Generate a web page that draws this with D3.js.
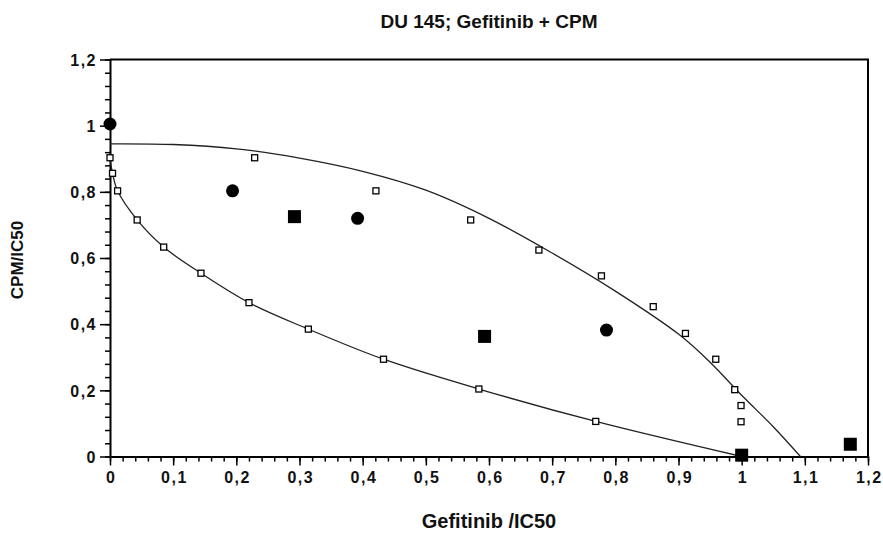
<!DOCTYPE html>
<html>
<head>
<meta charset="utf-8">
<script src="https://cdn.jsdelivr.net/npm/d3@7.9.0/dist/d3.min.js"></script>
<style>
  body { margin: 0; background: #fff; }
  svg { display: block; font-family: "Liberation Sans", Arial, sans-serif; }
  .tick text { font-weight: bold; font-size: 16px; fill: #111; letter-spacing: 1.5px; }
</style>
</head>
<body>
<svg width="883" height="533"></svg>
<script>
// tick values
const xTicks = [0, 0.1, 0.2, 0.3, 0.4, 0.5, 0.6, 0.7, 0.8, 0.9, 1, 1.1, 1.2];
const yTicks = [0, 0.2, 0.4, 0.6, 0.8, 1, 1.2];

// filled circles
const circleX = [0, 0.194, 0.392, 0.786];
const circleY = [1.005, 0.803, 0.72, 0.382];

// filled squares
const squareX = [0.292, 0.593, 1.0, 1.172];
const squareY = [0.725, 0.363, 0.004, 0.037];

// open squares, lower set
const lowX = [0, 0.004, 0.012, 0.043, 0.085, 0.144, 0.22, 0.314, 0.433, 0.584, 0.769];
const lowY = [0.903, 0.856, 0.803, 0.715, 0.633, 0.554, 0.465, 0.385, 0.294, 0.204, 0.106];

// open squares, upper set
const upX = [0.229, 0.421, 0.571, 0.679, 0.778, 0.860, 0.911, 0.959, 0.989, 0.999, 0.999];
const upY = [0.903, 0.803, 0.715, 0.624, 0.546, 0.453, 0.372, 0.294, 0.202, 0.154, 0.105];

// upper isobole curve
const upperCurveX = [0, 0.1, 0.2, 0.3, 0.4, 0.5, 0.6, 0.7, 0.8, 0.9, 0.95, 1.0, 1.05, 1.093];
const upperCurveY = [0.945, 0.943, 0.93, 0.902, 0.862, 0.805, 0.72, 0.615, 0.50, 0.37, 0.285, 0.185, 0.09, 0];

// lower isobole curve
const lowerCurveX = [0, 0.004, 0.012, 0.043, 0.085, 0.144, 0.22, 0.314, 0.433, 0.584, 0.769, 1.0];
const lowerCurveY = [0.90, 0.856, 0.803, 0.715, 0.633, 0.554, 0.465, 0.385, 0.294, 0.204, 0.106, 0];

const svg = d3.select('svg');
const margin = {left: 110, top: 59.5, right: 15, bottom: 76.5};
const W = 883, H = 533;

const x = d3.scaleLinear().domain([0, 1.2]).range([margin.left, W - margin.right]);
const y = d3.scaleLinear().domain([0, 1.2]).range([H - margin.bottom, margin.top]);

const fmt = d => String(+d.toFixed(2)).replace('.', ',');
const zip = (a, b) => a.map((v, i) => [v, b[i]]);

// frame (top + right)
svg.append('path')
  .attr('d', `M${x(0)},${y(1.2)}H${x(1.2)}V${y(0)}`)
  .attr('fill', 'none').attr('stroke', '#000').attr('stroke-width', 2);

// minor ticks
svg.append('g')
  .attr('transform', `translate(0,${y(0)})`)
  .call(d3.axisBottom(x).tickValues(d3.range(0, 61).map(i => i * 0.02)).tickSize(5).tickFormat(''))
  .call(g => g.select('.domain').remove())
  .selectAll('line').attr('stroke', '#000').attr('stroke-width', 1.5);

svg.append('g')
  .attr('transform', `translate(${x(0)},0)`)
  .call(d3.axisLeft(y).tickValues(d3.range(0, 31).map(i => i * 0.04)).tickSize(5).tickFormat(''))
  .call(g => g.select('.domain').remove())
  .selectAll('line').attr('stroke', '#000').attr('stroke-width', 1.5);

// major axes
const xAxis = svg.append('g')
  .attr('transform', `translate(0,${y(0)})`)
  .call(d3.axisBottom(x).tickValues(xTicks).tickSize(9).tickPadding(6).tickSizeOuter(0).tickFormat(fmt));
xAxis.select('.domain').attr('stroke-width', 2);
xAxis.selectAll('line').attr('stroke-width', 1.5);
xAxis.selectAll('text').attr('dx', '0.75px');

const yAxis = svg.append('g')
  .attr('transform', `translate(${x(0)},0)`)
  .call(d3.axisLeft(y).tickValues(yTicks).tickSize(10).tickPadding(3).tickSizeOuter(0).tickFormat(fmt));
yAxis.select('.domain').attr('stroke-width', 2);
yAxis.selectAll('line').attr('stroke-width', 1.5);
yAxis.selectAll('text').attr('dy', '0.36em');

// curves
const line = d3.line().x(d => x(d[0])).y(d => y(d[1])).curve(d3.curveCatmullRom.alpha(0.5));
svg.append('path').datum(zip(upperCurveX, upperCurveY))
  .attr('d', line).attr('fill', 'none').attr('stroke', '#222').attr('stroke-width', 1.3);
svg.append('path').datum(zip(lowerCurveX, lowerCurveY))
  .attr('d', line).attr('fill', 'none').attr('stroke', '#222').attr('stroke-width', 1.3);

// open squares
const openSq = zip(lowX, lowY).concat(zip(upX, upY));
svg.append('g').selectAll('rect').data(openSq).join('rect')
  .attr('x', d => x(d[0]) - 3).attr('y', d => y(d[1]) - 3)
  .attr('width', 6).attr('height', 6)
  .attr('fill', '#fff').attr('stroke', '#000').attr('stroke-width', 1.3);

// filled squares
svg.append('g').selectAll('rect').data(zip(squareX, squareY)).join('rect')
  .attr('x', d => x(d[0]) - 6.5).attr('y', d => y(d[1]) - 6.5)
  .attr('width', 13).attr('height', 13).attr('fill', '#000');

// filled circles
svg.append('g').selectAll('circle').data(zip(circleX, circleY)).join('circle')
  .attr('cx', d => x(d[0])).attr('cy', d => y(d[1])).attr('r', 6.5).attr('fill', '#000');

// titles
svg.append('text').attr('x', 489).attr('y', 28).attr('text-anchor', 'middle')
  .attr('font-size', 19).attr('font-weight', 'bold').attr('fill', '#111')
  .text('DU 145; Gefitinib + CPM');

svg.append('text').attr('x', 489).attr('y', 528).attr('text-anchor', 'middle')
  .attr('font-size', 20).attr('font-weight', 'bold').attr('fill', '#111')
  .text('Gefitinib /IC50');

svg.append('text').attr('transform', 'translate(23,260) rotate(-90)').attr('text-anchor', 'middle')
  .attr('font-size', 17).attr('font-weight', 'bold').attr('fill', '#111')
  .text('CPM/IC50');
</script>
</body>
</html>
